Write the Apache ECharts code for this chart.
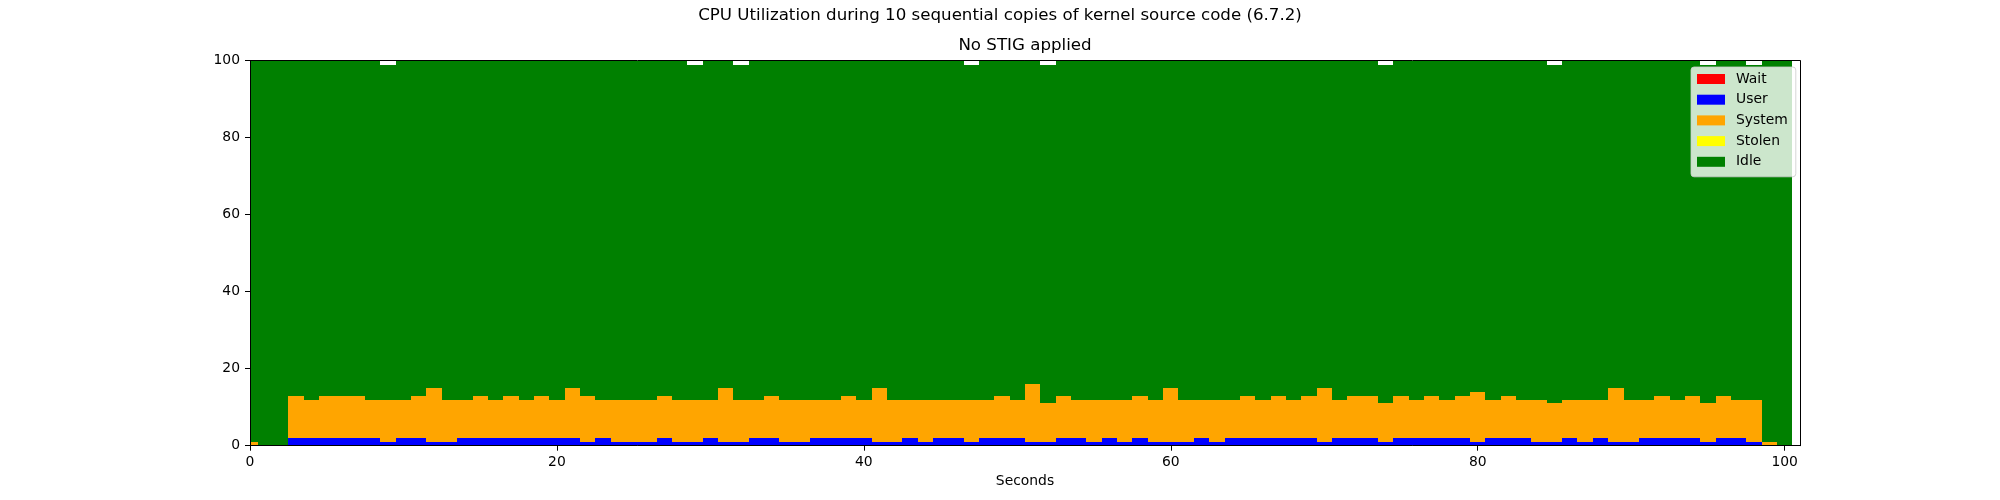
<!DOCTYPE html>
<html>
<head>
<meta charset="utf-8">
<script src="https://cdn.jsdelivr.net/npm/echarts@6/dist/echarts.min.js"></script>
<style>
  html, body { margin: 0; padding: 0; background: #ffffff; }
  #chart { width: 2000px; height: 500px; }
</style>
</head>
<body>
<div id="chart"></div>
<script>
// ---- Data ----
const seconds = [0,1,2,3,4,5,6,7,8,9,10,11,12,13,14,15,16,17,18,19,20,21,22,23,24,25,26,27,28,29,30,31,32,33,34,35,36,37,38,39,40,41,42,43,44,45,46,47,48,49,50,51,52,53,54,55,56,57,58,59,60,61,62,63,64,65,66,67,68,69,70,71,72,73,74,75,76,77,78,79,80,81,82,83,84,85,86,87,88,89,90,91,92,93,94,95,96,97,98,99,100];

const waitVals = [0,0,0,0,0,0,0,0,0,0,0,0,0,0,0,0,0,0,0,0,0,0,0,0,0,0,0,0,0,0,0,0,0,0,0,0,0,0,0,0,0,0,0,0,0,0,0,0,0,0,0,0,0,0,0,0,0,0,0,0,0,0,0,0,0,0,0,0,0,0,0,0,0,0,0,0,0,0,0,0,0,0,0,0,0,0,0,0,0,0,0,0,0,0,0,0,0,0,0,0,0];

const userVals = [0,0,0,2,2,2,2,2,2,1,2,2,1,1,2,2,2,2,2,2,2,2,1,2,1,1,1,2,1,1,2,1,1,2,2,1,1,2,2,2,2,1,1,2,1,2,2,1,2,2,2,1,1,2,2,1,2,1,2,1,1,1,2,1,2,2,2,2,2,2,1,2,2,2,1,2,2,2,2,2,1,2,2,2,1,1,2,1,2,1,1,2,2,2,2,1,2,2,1,0,0];

const systemVals = [1,0,0,11,10,11,11,11,10,11,10,11,14,11,10,11,10,11,10,11,10,13,12,10,11,11,11,11,11,11,10,14,11,10,11,11,11,10,10,11,10,14,11,10,11,10,10,11,10,11,10,15,10,11,10,11,10,11,11,11,14,11,10,11,10,11,10,11,10,11,14,10,11,11,10,11,10,11,10,11,13,10,11,10,11,10,10,11,10,14,11,10,11,10,11,10,11,10,11,1,0];

const stolenVals = [0,0,0,0,0,0,0,0,0,0,0,0,0,0,0,0,0,0,0,0,0,0,0,0,0,0,0,0,0,0,0,0,0,0,0,0,0,0,0,0,0,0,0,0,0,0,0,0,0,0,0,0,0,0,0,0,0,0,0,0,0,0,0,0,0,0,0,0,0,0,0,0,0,0,0,0,0,0,0,0,0,0,0,0,0,0,0,0,0,0,0,0,0,0,0,0,0,0,0,0,0];

const idleVals = [99,100,100,87,88,87,87,87,88,87,88,87,85,88,88,87,88,87,88,87,88,85,87,88,88,88,88,87,88,87,88,85,87,88,87,88,88,88,88,87,88,85,88,88,88,88,88,87,88,87,88,84,88,87,88,88,88,88,87,88,85,88,88,88,88,87,88,87,88,87,85,88,87,87,88,87,88,87,88,87,86,88,87,88,88,88,88,88,88,85,88,88,87,88,87,88,87,88,87,99,100];

const xTickValues = [0, 20, 40, 60, 80, 100];
const yTickValues = [0, 20, 40, 60, 80, 100];

const chartTitle = 'CPU Utilization during 10 sequential copies of kernel source code (6.7.2)';
const chartSubtitle = 'No STIG applied';
const xAxisName = 'Seconds';

// ---- Chart ----
const FONT = 'DejaVu Sans';
const BAR_WIDTH = 1; // in seconds (data units)
const seriesDefs = [
  { name: 'Wait',   color: '#ff0000', values: waitVals },
  { name: 'User',   color: '#0000ff', values: userVals },
  { name: 'System', color: '#ffa500', values: systemVals },
  { name: 'Stolen', color: '#ffff00', values: stolenVals },
  { name: 'Idle',   color: '#008000', values: idleVals }
];

// Stack (bottom -> top): each layer spans [bottom, top] in data units.
const layers = [];
let running = seconds.map(() => 0);
seriesDefs.forEach(s => {
  const bottoms = running.slice();
  running = running.map((v, i) => v + s.values[i]);
  layers.push({ def: s, tops: running.slice(), bottoms: bottoms });
});

function renderStackedBar(params, api) {
  const x = api.value(0);
  const lo = api.value(1);
  const hi = api.value(2);
  if (!(hi > lo)) return null;
  const pTopLeft = api.coord([x - BAR_WIDTH / 2, hi]);
  const pBotRight = api.coord([x + BAR_WIDTH / 2, lo]);
  const x0 = Math.round(pTopLeft[0]);
  const x1 = Math.round(pBotRight[0]);
  const y0 = Math.round(pTopLeft[1]);
  const y1 = Math.round(pBotRight[1]);
  const cs = params.coordSys;
  const shape = echarts.graphic.clipRectByRect(
    { x: x0, y: y0, width: x1 - x0, height: y1 - y0 },
    { x: cs.x, y: cs.y, width: cs.width, height: cs.height }
  );
  if (!shape) return null;
  return { type: 'rect', shape: shape, style: { fill: api.visual('color') } };
}

const chart = echarts.init(document.getElementById('chart'), null, { renderer: 'canvas' });

const axisCommon = {
  axisLine: { show: true, onZero: false, lineStyle: { color: '#000000', width: 1 } },
  splitLine: { show: false },
  z: 10
};

const series = layers.map(layer => ({
  name: layer.def.name,
  type: 'custom',
  xAxisIndex: 0,
  yAxisIndex: 0,
  renderItem: renderStackedBar,
  itemStyle: { color: layer.def.color },
  emphasis: { disabled: true },
  encode: { x: 0, y: [1, 2] },
  data: seconds.map((x, i) => [x, layer.bottoms[i], layer.tops[i]])
}));

const option = {
  animation: false,
  backgroundColor: '#ffffff',
  title: [
    {
      text: chartTitle,
      left: 'center',
      top: 7,
      padding: 0,
      textStyle: { fontFamily: FONT, fontSize: 16.67, fontWeight: 'normal', color: '#000000' }
    },
    {
      text: chartSubtitle,
      left: 1025,
      textAlign: 'center',
      top: 37,
      padding: 0,
      textStyle: { fontFamily: FONT, fontSize: 16.67, fontWeight: 'normal', color: '#000000' }
    }
  ],
  legend: {
    orient: 'vertical',
    left: 1691,
    top: 67,
    padding: [5, 8, 8, 6],
    itemWidth: 28,
    itemHeight: 10,
    itemGap: 6.7,
    icon: 'rect',
    selectedMode: false,
    backgroundColor: 'rgba(255,255,255,0.8)',
    borderColor: 'rgba(204,204,204,0.8)',
    borderWidth: 1,
    borderRadius: 3,
    z: 20,
    itemStyle: { borderWidth: 0 },
    textStyle: { fontFamily: FONT, fontSize: 13.9, color: '#000000', lineHeight: 14, padding: [0, 0, 0, 6] },
    data: seriesDefs.map(s => ({ name: s.name, itemStyle: { color: s.color } }))
  },
  grid: { left: 250, right: 200, top: 60.7, bottom: 54.3, containLabel: false },
  xAxis: [
    Object.assign({}, axisCommon, {
      type: 'value',
      position: 'bottom',
      min: 0,
      max: 101,
      interval: 20,
      name: xAxisName,
      nameLocation: 'middle',
      nameGap: 28,
      nameTextStyle: { fontFamily: FONT, fontSize: 13.9, color: '#000000' },
      axisTick: { show: true, inside: false, length: 5, lineStyle: { color: '#000000', width: 1 }, customValues: xTickValues },
      axisLabel: { show: true, margin: 10, fontFamily: FONT, fontSize: 13.9, color: '#000000', customValues: xTickValues }
    }),
    Object.assign({}, axisCommon, {
      type: 'value',
      position: 'top',
      min: 0,
      max: 101,
      axisTick: { show: false },
      axisLabel: { show: false }
    })
  ],
  yAxis: [
    Object.assign({}, axisCommon, {
      type: 'value',
      position: 'left',
      min: 0,
      max: 100,
      interval: 20,
      axisTick: { show: true, inside: false, length: 5, lineStyle: { color: '#000000', width: 1 }, customValues: yTickValues },
      axisLabel: { show: true, margin: 10, fontFamily: FONT, fontSize: 13.9, color: '#000000', customValues: yTickValues }
    }),
    Object.assign({}, axisCommon, {
      type: 'value',
      position: 'right',
      min: 0,
      max: 100,
      axisTick: { show: false },
      axisLabel: { show: false }
    })
  ],
  tooltip: { show: false },
  series: series
};

chart.setOption(option);
</script>
</body>
</html>
